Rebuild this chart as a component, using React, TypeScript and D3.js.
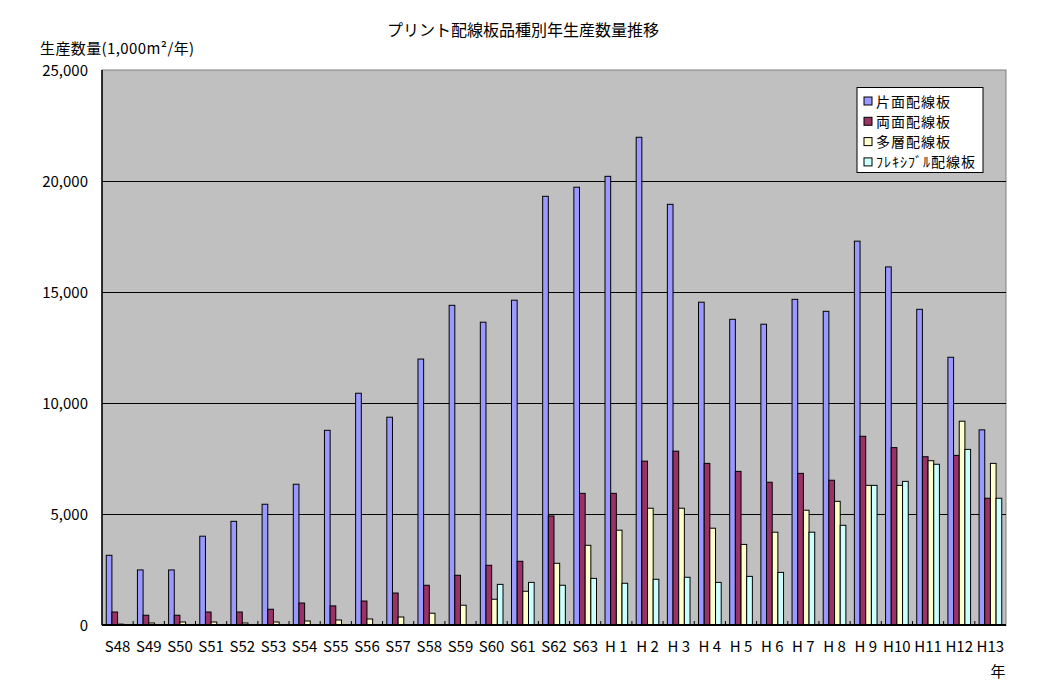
import React from "react";
import * as d3 from "d3";

const title = "プリント配線板品種別年生産数量推移";
const yAxisTitle = "生産数量(1,000m²/年)";
const xAxisUnit = "年";

const categories = ["S48","S49","S50","S51","S52","S53","S54","S55","S56","S57","S58","S59","S60","S61","S62","S63","H 1","H 2","H 3","H 4","H 5","H 6","H 7","H 8","H 9","H10","H11","H12","H13"];

const seriesNames = ["片面配線板", "両面配線板", "多層配線板", "ﾌﾚｷｼﾌﾞﾙ配線板"];

const singleSided = [3140, 2480, 2480, 4000, 4670, 5440, 6340, 8770, 10440, 9360, 11980, 14400, 13640, 14630, 19310, 19720, 20210, 21970, 18950, 14540, 13770, 13550, 14670, 14130, 17290, 16130, 14220, 12060, 8790];
const doubleSided = [585, 440, 440, 585, 585, 710, 990, 860, 1080, 1440, 1790, 2240, 2690, 2870, 4910, 5930, 5930, 7380, 7830, 7280, 6920, 6430, 6830, 6520, 8500, 7990, 7580, 7640, 5710];
const multiLayer = [40, 90, 135, 135, 90, 135, 180, 225, 270, 360, 530, 890, 1160, 1520, 2780, 3590, 4270, 5260, 5260, 4360, 3630, 4180, 5170, 5570, 6290, 6290, 7400, 9180, 7280];
const flexible = [0, 0, 0, 0, 0, 0, 0, 0, 0, 0, 0, 0, 1830, 1920, 1790, 2100, 1880, 2060, 2150, 1920, 2190, 2370, 4180, 4490, 6290, 6470, 7240, 7910, 5710];

const yTicks = [0, 5000, 10000, 15000, 20000, 25000];

const seriesValues = [singleSided, doubleSided, multiLayer, flexible];
const colors = ["#9999FF", "#993366", "#FFFFCC", "#CCFFFF"];

const W = 1046, H = 698;
const plot = { left: 102, right: 1006, top: 70, bottom: 625 };
const FONT = "'Noto Sans CJK JP', 'Noto Sans', sans-serif";

export default function App() {
  const x0 = d3.scaleBand<string>().domain(categories).range([plot.left, plot.right]).padding(0);
  const x1 = d3.scaleBand<string>().domain(seriesNames).range([0, x0.bandwidth()]).paddingInner(0).paddingOuter(0.75);
  const y = d3.scaleLinear().domain([0, 25000]).range([plot.bottom, plot.top]);
  const fmt = d3.format(",");

  return (
    <div style={{ position: "fixed", left: 0, top: 0 }}>
      <svg width={W} height={H} style={{ display: "block", background: "#fff" }} fontFamily={FONT}>
        <rect x={0} y={0} width={W} height={H} fill="#fff" />
        <text x={523} y={36} textAnchor="middle" fontSize={16}>{title}</text>
        <text x={40} y={54} fontSize={15} letterSpacing={0.4}>{yAxisTitle}</text>

        {/* plot area */}
        <rect x={plot.left} y={plot.top} width={plot.right - plot.left} height={plot.bottom - plot.top} fill="#C0C0C0" stroke="#808080" strokeWidth={1} />

        {/* gridlines */}
        {yTicks.filter(t => t > 0 && t < 25000).map(t => (
          <line key={t} x1={plot.left} x2={plot.right} y1={Math.round(y(t)) + 0.5} y2={Math.round(y(t)) + 0.5} stroke="#000" strokeWidth={1} />
        ))}

        {/* y tick labels */}
        {yTicks.map(t => (
          <text key={t} x={88} y={y(t) + 6} textAnchor="end" fontSize={15}>{fmt(t)}</text>
        ))}

        {/* bars */}
        {categories.map((c, i) => (
          <g key={c} transform={`translate(${x0(c)},0)`}>
            {seriesNames.map((s, j) => {
              const v = seriesValues[j][i];
              if (v <= 0) return null;
              const top = y(v);
              return (
                <rect key={s} x={x1(s)} y={top} width={x1.bandwidth()} height={plot.bottom - top}
                  fill={colors[j]} stroke="#000" strokeWidth={1} />
              );
            })}
          </g>
        ))}

        {/* y axis */}
        <line x1={plot.left} x2={plot.left} y1={plot.top} y2={plot.bottom} stroke="#000" strokeWidth={1.5} />
        {/* x axis */}
        <line x1={plot.left} x2={plot.right} y1={plot.bottom} y2={plot.bottom} stroke="#000" strokeWidth={2} />
        {categories.map((c, i) => (
          i > 0 ? <line key={"t" + c} x1={x0(c)} x2={x0(c)} y1={plot.bottom - 4} y2={plot.bottom} stroke="#000" strokeWidth={1} /> : null
        ))}

        {/* x labels */}
        {categories.map(c => (
          <text key={"l" + c} x={(x0(c) as number) + x0.bandwidth() / 2} y={652} textAnchor="middle" fontSize={15}>{c}</text>
        ))}
        <text x={998} y={677} textAnchor="middle" fontSize={15}>{xAxisUnit}</text>

        {/* legend */}
        <g>
          <rect x={857} y={87.5} width={126} height={85} fill="#fff" stroke="#000" strokeWidth={1} />
          {seriesNames.map((s, j) => (
            <g key={s} transform={`translate(864, ${101 + j * 20.3})`}>
              <rect x={0} y={-4} width={8} height={8} fill={colors[j]} stroke="#000" strokeWidth={1} />
              <text x={12} y={5.5} fontSize={14} letterSpacing={1}>{s}</text>
            </g>
          ))}
        </g>
      </svg>
    </div>
  );
}
